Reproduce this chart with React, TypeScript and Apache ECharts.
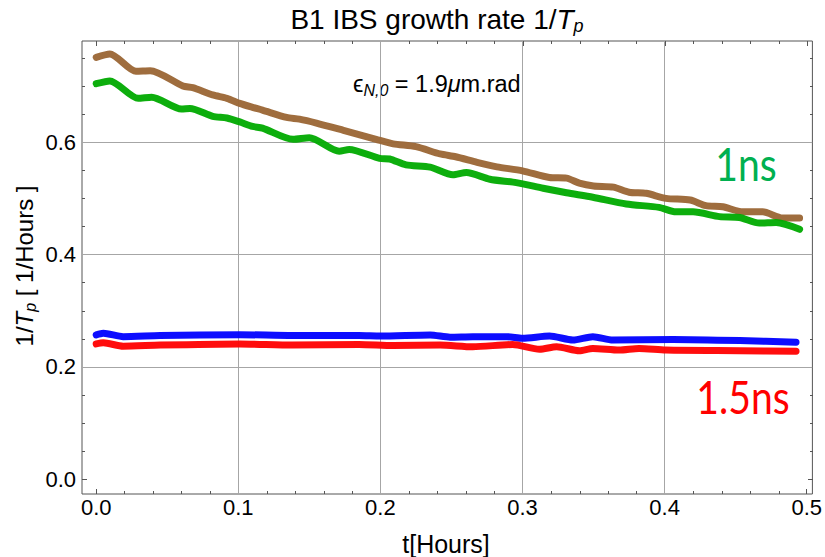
import React, { useEffect, useRef } from "react";
import * as echarts from "echarts";

// Time axis (hours) and IBS growth rates 1/Tp (1/hours)
const brownT = [0, 0.0096, 0.028, 0.038, 0.061, 0.068, 0.082, 0.092, 0.101, 0.11, 0.117, 0.134, 0.143, 0.155, 0.174, 0.197, 0.209, 0.225, 0.242, 0.253, 0.268, 0.282, 0.3, 0.319, 0.331, 0.34, 0.35, 0.364, 0.375, 0.387, 0.401, 0.418, 0.429, 0.441, 0.455, 0.469, 0.483, 0.495];
const brownV = [0.751, 0.757, 0.726, 0.727, 0.7, 0.697, 0.684, 0.678, 0.669, 0.662, 0.657, 0.644, 0.641, 0.634, 0.621, 0.605, 0.597, 0.592, 0.579, 0.574, 0.564, 0.556, 0.549, 0.537, 0.536, 0.527, 0.522, 0.52, 0.511, 0.509, 0.5, 0.497, 0.487, 0.485, 0.476, 0.476, 0.465, 0.465];

const greenT = [0, 0.0096, 0.0295, 0.039, 0.06, 0.066, 0.082, 0.092, 0.101, 0.11, 0.117, 0.1385, 0.15, 0.171, 0.178, 0.1995, 0.2065, 0.218, 0.235, 0.251, 0.2605, 0.277, 0.2956, 0.3145, 0.331, 0.3495, 0.373, 0.396, 0.408, 0.42, 0.4386, 0.4527, 0.4667, 0.4785, 0.495];
const greenV = [0.704, 0.709, 0.678, 0.68, 0.659, 0.66, 0.646, 0.643, 0.636, 0.628, 0.625, 0.605, 0.608, 0.584, 0.587, 0.571, 0.57, 0.5595, 0.5555, 0.542, 0.546, 0.534, 0.528, 0.518, 0.51, 0.502, 0.49, 0.484, 0.476, 0.476, 0.4675, 0.466, 0.456, 0.457, 0.445];

const blueT = [0, 0.005, 0.019, 0.045, 0.101, 0.138, 0.185, 0.2, 0.235, 0.249, 0.265, 0.289, 0.3, 0.319, 0.3355, 0.3495, 0.3636, 0.406, 0.453, 0.4925];
const blueV = [0.257, 0.26, 0.254, 0.256, 0.2575, 0.256, 0.256, 0.255, 0.257, 0.253, 0.254, 0.254, 0.251, 0.255, 0.248, 0.254, 0.248, 0.249, 0.247, 0.244];

const redT = [0, 0.005, 0.019, 0.045, 0.101, 0.138, 0.185, 0.209, 0.242, 0.265, 0.293, 0.312, 0.324, 0.34, 0.3495, 0.368, 0.382, 0.401, 0.453, 0.4925];
const redV = [0.241, 0.243, 0.237, 0.239, 0.241, 0.239, 0.24, 0.238, 0.239, 0.236, 0.24, 0.2315, 0.236, 0.229, 0.233, 0.23, 0.233, 0.23, 0.229, 0.228];

// Axis ranges and ticks
const X_MIN = -0.01;
const X_MAX = 0.504;
const Y_MIN = -0.026;
const Y_MAX = 0.78;
const xMajor = [0, 0.1, 0.2, 0.3, 0.4, 0.5];
const xMinor = [0.02, 0.04, 0.06, 0.08, 0.12, 0.14, 0.16, 0.18, 0.22, 0.24, 0.26, 0.28, 0.32, 0.34, 0.36, 0.38, 0.42, 0.44, 0.46, 0.48];
const yMajor = [0, 0.2, 0.4, 0.6];
const yMinor = [0.05, 0.1, 0.15, 0.25, 0.3, 0.35, 0.45, 0.5, 0.55, 0.65, 0.7, 0.75];
const xGrid = [0.1, 0.2, 0.3, 0.4];
const yGrid = [0.2, 0.4, 0.6];

const FONT = "'Liberation Sans', Arial, sans-serif";
const TICK_COLOR = "#555";

const zip = (t: number[], v: number[]) => t.map((x, i) => [x, v[i]]);

const GRID_BOX = { left: 82, top: 41, width: 731, height: 453 };

function axisFor(dim: "x" | "y", gridIndex: number, position: string, values: number[], len: number, labels: boolean) {
  return {
    type: "value",
    gridIndex,
    position,
    min: dim === "x" ? X_MIN : Y_MIN,
    max: dim === "x" ? X_MAX : Y_MAX,
    axisLine: { show: false, onZero: false },
    splitLine: { show: false },
    axisTick: { show: true, inside: true, length: len, customValues: values, lineStyle: { color: TICK_COLOR, width: 1 } },
    axisLabel: labels
      ? {
          show: true,
          customValues: values,
          formatter: (v: number) => v.toFixed(1),
          fontSize: 22,
          color: "#000",
          fontFamily: FONT,
          margin: dim === "x" ? 2 : 6,
        }
      : { show: false },
  };
}

function curve(name: string, t: number[], v: number[], color: string, z: number) {
  return {
    name,
    type: "line",
    xAxisIndex: 0,
    yAxisIndex: 0,
    data: zip(t, v),
    showSymbol: false,
    smooth: 0.25,
    z,
    lineStyle: { color, width: 7, cap: "round", join: "round", opacity: 0.95 },
  };
}

export default function App() {
  const ref = useRef<HTMLDivElement>(null);

  useEffect(() => {
    if (!ref.current) return;
    const chart = echarts.init(ref.current, undefined, { renderer: "svg" });

    const gridLines = [
      ...xGrid.map((x) => ({ xAxis: x })),
      ...yGrid.map((y) => ({ yAxis: y })),
    ];

    chart.setOption({
      animation: false,
      backgroundColor: "#fff",
      grid: [
        { ...GRID_BOX, show: true, borderColor: "#555", borderWidth: 1, backgroundColor: "transparent" },
        { ...GRID_BOX },
        { ...GRID_BOX },
        { ...GRID_BOX },
      ],
      xAxis: [
        axisFor("x", 0, "bottom", xMajor, 5, true),
        axisFor("x", 1, "top", xMajor, 5, false),
        axisFor("x", 2, "bottom", xMinor, 3, false),
        axisFor("x", 3, "top", xMinor, 3, false),
      ],
      yAxis: [
        axisFor("y", 0, "left", yMajor, 5, true),
        axisFor("y", 1, "right", yMajor, 5, false),
        axisFor("y", 2, "left", yMinor, 3, false),
        axisFor("y", 3, "right", yMinor, 3, false),
      ],
      series: [
        {
          ...curve("1.5ns-b", blueT, blueV, "#0000ff", 2),
          markLine: {
            silent: true,
            z: 1,
            symbol: ["none", "none"],
            label: { show: false },
            lineStyle: { type: "solid", color: "#a6a6a6", width: 1 },
            data: gridLines,
          },
        },
        curve("1.5ns-r", redT, redV, "#ff0000", 2),
        curve("1ns-brown", brownT, brownV, "#9a6534", 2),
        curve("1ns-green", greenT, greenV, "#00aa00", 3),
      ],
      graphic: [
        {
          type: "text",
          x: 437,
          y: 19,
          style: {
            text: "{a|B1 IBS growth rate 1/}{i|T}{s|p}",
            textAlign: "center",
            textVerticalAlign: "middle",
            rich: {
              a: { fontSize: 28, fontFamily: FONT, color: "#000", lineHeight: 32 },
              i: { fontSize: 28, fontFamily: FONT, fontStyle: "italic", color: "#000", lineHeight: 32 },
              s: { fontSize: 18, fontFamily: FONT, fontStyle: "italic", color: "#000", lineHeight: 18, verticalAlign: "bottom" },
            },
          },
        },
        {
          type: "text",
          x: 353,
          y: 84,
          style: {
            text: "{a|ϵ}{s|N,0}{a| = 1.9}{i|μ}{a|m.rad}",
            textAlign: "left",
            textVerticalAlign: "middle",
            rich: {
              a: { fontSize: 23.5, fontFamily: FONT, color: "#000", lineHeight: 28 },
              i: { fontSize: 23.5, fontFamily: FONT, fontStyle: "italic", color: "#000", lineHeight: 28 },
              s: { fontSize: 16, fontFamily: FONT, fontStyle: "italic", color: "#000", lineHeight: 16, verticalAlign: "bottom" },
            },
          },
        },
        {
          type: "text",
          x: 24,
          y: 266,
          rotation: Math.PI / 2,
          style: {
            text: "{a|1/}{i|T}{s|p}{a| [ 1/Hours ]}",
            textAlign: "center",
            textVerticalAlign: "middle",
            rich: {
              a: { fontSize: 24, fontFamily: FONT, color: "#000", lineHeight: 28 },
              i: { fontSize: 24, fontFamily: FONT, fontStyle: "italic", color: "#000", lineHeight: 28 },
              s: { fontSize: 16, fontFamily: FONT, fontStyle: "italic", color: "#000", lineHeight: 16, verticalAlign: "bottom" },
            },
          },
        },
        {
          type: "text",
          x: 446,
          y: 544,
          style: {
            text: "t[Hours]",
            textAlign: "center",
            textVerticalAlign: "middle",
            fontSize: 25,
            fontFamily: FONT,
            fill: "#000",
          },
        },
        {
          type: "text",
          x: 746,
          y: 163,
          scaleX: 0.85,
          style: {
            text: "1ns",
            textAlign: "center",
            textVerticalAlign: "middle",
            fontSize: 46,
            fontFamily: "Lato, sans-serif",
            fill: "#00b050",
          },
        },
        {
          type: "text",
          x: 743,
          y: 396,
          scaleX: 0.85,
          style: {
            text: "1.5ns",
            textAlign: "center",
            textVerticalAlign: "middle",
            fontSize: 46,
            fontFamily: "Lato, sans-serif",
            fill: "#ff0000",
          },
        },
      ],
    });

    return () => chart.dispose();
  }, []);

  return <div ref={ref} style={{ position: "absolute", left: 0, top: 0, width: 825, height: 557 }} />;
}
